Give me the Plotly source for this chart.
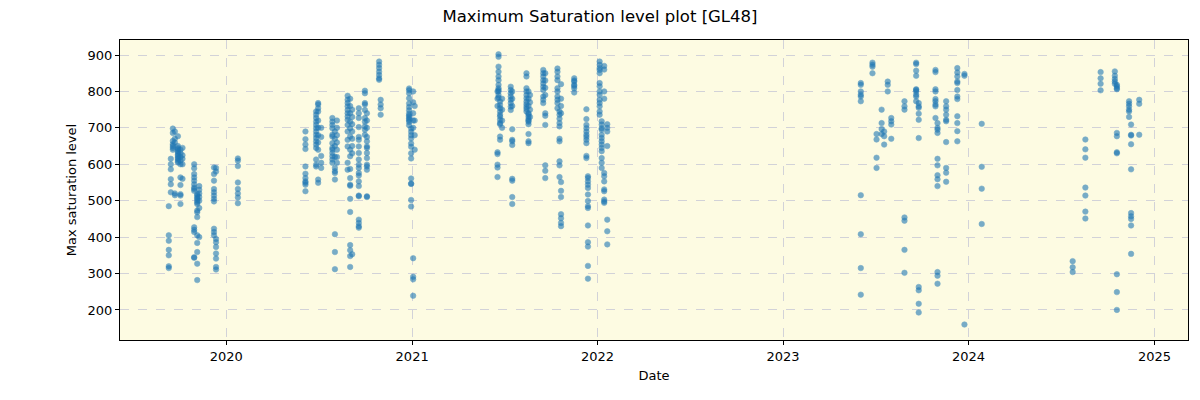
import plotly.graph_objects as go

# Observation dates (one per column of points) and the saturation levels read at each
group_dates = [
    "2019-09-10", "2019-09-14", "2019-09-18", "2019-09-22", "2019-09-28", "2019-10-03", "2019-10-07",
    "2019-10-30", "2019-11-05", "2019-11-09", "2019-12-08", "2019-12-12", "2020-01-24",
    "2020-06-05", "2020-06-26", "2020-06-30", "2020-07-06", "2020-07-28", "2020-08-02", "2020-08-06",
    "2020-08-27", "2020-09-01", "2020-09-05", "2020-09-18", "2020-09-30", "2020-10-04",
    "2020-10-28", "2020-10-31", "2020-12-26", "2020-12-30", "2021-01-03", "2021-01-06",
    "2021-06-18", "2021-06-20", "2021-06-23", "2021-06-27", "2021-07-14", "2021-07-17",
    "2021-08-14", "2021-08-18", "2021-08-21", "2021-09-16", "2021-09-20", "2021-10-14",
    "2021-10-18", "2021-10-21", "2021-11-16", "2021-12-10", "2021-12-13", "2022-01-05",
    "2022-01-09", "2022-01-14", "2022-01-20",
    "2023-06-03", "2023-06-26", "2023-07-04", "2023-07-14", "2023-07-19", "2023-07-26",
    "2023-08-02", "2023-08-28", "2023-09-20", "2023-09-25", "2023-10-28", "2023-11-01",
    "2023-11-18", "2023-12-10", "2023-12-24", "2024-01-27",
    "2024-07-24", "2024-08-18", "2024-09-17", "2024-10-15", "2024-10-19", "2024-11-12",
    "2024-11-16", "2024-12-02",
]

group_values = [
    [485, 405, 390, 365, 350, 320, 315],
    [615, 600, 586, 559, 545, 523],
    [698, 686, 664, 655, 645, 640, 650],
    [690, 670, 660, 520, 515],
    [677, 650, 645, 641, 636, 632, 627, 623, 618, 614, 609, 605],
    [640, 630, 620, 610, 600, 564, 543, 518, 514, 491],
    [645, 625, 615, 600, 560],
    [600, 589, 573, 564, 555, 545, 536, 532, 527, 427, 420, 414, 345, 343],
    [518, 514, 509, 505, 500, 495, 491, 473, 468, 455, 405, 384, 359, 327, 282],
    [540, 530, 520, 510, 500, 480, 400],
    [591, 573, 555, 532, 523, 514, 505, 498, 423, 414, 405],
    [590, 580, 395, 386, 373, 355, 341, 318, 311],
    [616, 610, 595, 550, 532, 520, 509, 493],
    [690, 669, 654, 642, 594, 574, 562, 553, 549, 544, 526],
    [745, 736, 727, 717, 708, 699, 690, 681, 672, 663, 654, 645, 613, 599, 594],
    [768, 764, 754, 745, 720, 700, 680, 660, 640, 558, 549],
    [700, 675, 623, 604, 590],
    [727, 717, 708, 699, 681, 676, 658, 645, 640, 631, 622, 613, 604],
    [690, 670, 650, 620, 590, 581, 576, 558, 408, 359, 312],
    [720, 700, 680, 660, 640, 620, 604],
    [788, 777, 768, 759, 749, 740, 731, 722, 708, 690, 667, 649, 604, 585],
    [780, 760, 740, 717, 699, 676, 640, 622, 587, 562, 544, 541, 505, 469, 378, 364, 348, 318],
    [750, 730, 710, 690, 670, 650, 630, 353],
    [754, 740, 727, 702, 675, 667, 649, 631, 613, 599, 590, 576, 569, 553, 540, 514, 512, 448, 439, 430, 426],
    [802, 795, 768, 764, 749, 727, 717, 704, 695, 681],
    [675, 663, 649, 645, 631, 617, 599, 594, 585, 512, 510, 740, 720, 700],
    [882, 873, 864, 854, 845, 836, 832],
    [777, 764, 754, 736],
    [808, 803, 795, 781, 767, 757, 748, 739, 734, 730, 725, 721, 716, 707],
    [698, 689, 680, 671, 657, 648, 630, 616, 561, 547, 546, 502, 484],
    [800, 770, 740, 720, 700, 342, 291, 284, 239],
    [760, 720, 680, 640],
    [633, 628, 599, 591, 565, 800, 780, 760],
    [902, 895, 868, 854, 841, 831, 818, 809, 804, 800, 790, 783],
    [772, 763, 754, 745, 736, 731, 722, 713, 710, 676, 667],
    [780, 750, 720, 700],
    [813, 804, 795, 786, 777, 768, 758, 749],
    [696, 667, 663, 653, 560, 555, 510, 491, 800, 780, 760],
    [850, 841, 809, 800, 790, 781, 772, 765, 758, 752, 745],
    [737, 731, 724, 717, 710, 683, 663, 658, 800, 780, 760, 740, 720],
    [790, 770, 750, 730],
    [859, 850, 841, 831, 822, 813, 804, 786, 777, 768],
    [740, 733, 708, 597, 582, 562, 850, 830, 810, 790],
    [863, 854, 841, 831, 809, 800, 786, 777, 768, 754],
    [745, 736, 725, 713, 704, 670, 663, 608, 597, 565],
    [551, 527, 510, 463, 452, 439, 430, 820, 780, 760, 740],
    [836, 827, 818, 809, 797, 830, 815],
    [751, 724, 708, 699, 690, 681, 675, 667, 658, 623, 617],
    [567, 562, 553, 544, 535, 517, 499, 485, 480, 432, 386, 374, 321, 286],
    [882, 873, 864, 859, 850, 823, 814, 800, 791, 777, 768, 759, 745, 736],
    [718, 709, 699, 695, 681, 672, 663, 654, 645, 636, 617, 604, 590],
    [576, 567, 553, 531, 526, 503, 498, 494, 870, 860, 800, 780],
    [448, 416, 380, 700, 650, 710, 690],
    [823, 818, 800, 791, 786, 773, 515, 408, 315, 242],
    [879, 873, 868, 850],
    [683, 668, 618, 590],
    [750, 713, 697, 683],
    [690, 677, 654],
    [827, 818, 800],
    [727, 718, 709, 670],
    [773, 759, 750, 454, 445, 365, 302],
    [879, 875, 857, 843, 806, 804, 800, 791, 786, 773],
    [768, 759, 755, 739, 722, 672, 263, 254, 217, 193],
    [859, 853, 806, 800, 779, 773, 764, 759, 727],
    [713, 700, 695, 686, 615, 597, 570, 559, 540, 304, 294, 272],
    [773, 759, 750, 736, 722, 718, 661, 590, 577, 552],
    [864, 852, 841, 827, 823, 804, 786, 779, 732, 713, 691, 663],
    [848, 843, 160],
    [711, 593, 533, 436],
    [334, 317, 304],
    [668, 641, 618, 536, 514, 470, 451],
    [853, 836, 821, 803],
    [855, 843, 834, 827, 821],
    [818, 814, 809, 806, 686, 677, 633, 630, 298, 249, 200],
    [773, 766, 759, 750, 745, 730],
    [709, 681, 679, 655, 586, 466, 457, 450, 432, 354],
    [777, 766, 681],
]

year_ticks = ["2020-01-01", "2021-01-01", "2022-01-01", "2023-01-01", "2024-01-01", "2025-01-01"]
year_labels = ["2020", "2021", "2022", "2023", "2024", "2025"]
y_ticks = [200, 300, 400, 500, 600, 700, 800, 900]

x_pts, y_pts = [], []
for d, vals in zip(group_dates, group_values):
    for v in vals:
        x_pts.append(d)
        y_pts.append(v)

fig = go.Figure()
fig.add_trace(go.Scatter(
    x=x_pts, y=y_pts, mode="markers",
    marker=dict(color="#1f77b4", size=5.5, opacity=0.6,
                line=dict(color="#1f77b4", width=0.6)),
    showlegend=False,
))

font = "DejaVu Sans, sans-serif"
axis_common = dict(
    showline=True, linecolor="black", linewidth=1, mirror=True,
    ticks="outside", ticklen=4, tickcolor="black", tickwidth=1,
    showgrid=True, gridcolor="#d2d2d8", griddash="dash", gridwidth=1,
    zeroline=False, tickfont=dict(family=font, size=13, color="black"),
)

fig.update_layout(
    width=1200, height=400,
    margin=dict(l=120, r=12, t=40, b=60),
    paper_bgcolor="white", plot_bgcolor="#fdfbe2",
    title=dict(text="Maximum Saturation level plot [GL48]", x=0.5, xanchor="center",
               y=0.96, yanchor="middle", font=dict(family=font, size=16.5, color="black")),
    xaxis=dict(axis_common, type="date", range=["2019-06-06", "2025-03-08"],
               tickvals=year_ticks, ticktext=year_labels,
               title=dict(text="Date", font=dict(family=font, size=13, color="black"), standoff=8)),
    yaxis=dict(axis_common, range=[117.5, 941.2], tickvals=y_ticks,
               title=dict(text="Max saturation level", font=dict(family=font, size=13, color="black"), standoff=8)),
)

fig.write_html("out.html", config={"displayModeBar": False},
               post_script="document.body.style.margin='0';document.body.style.overflow='hidden';")
